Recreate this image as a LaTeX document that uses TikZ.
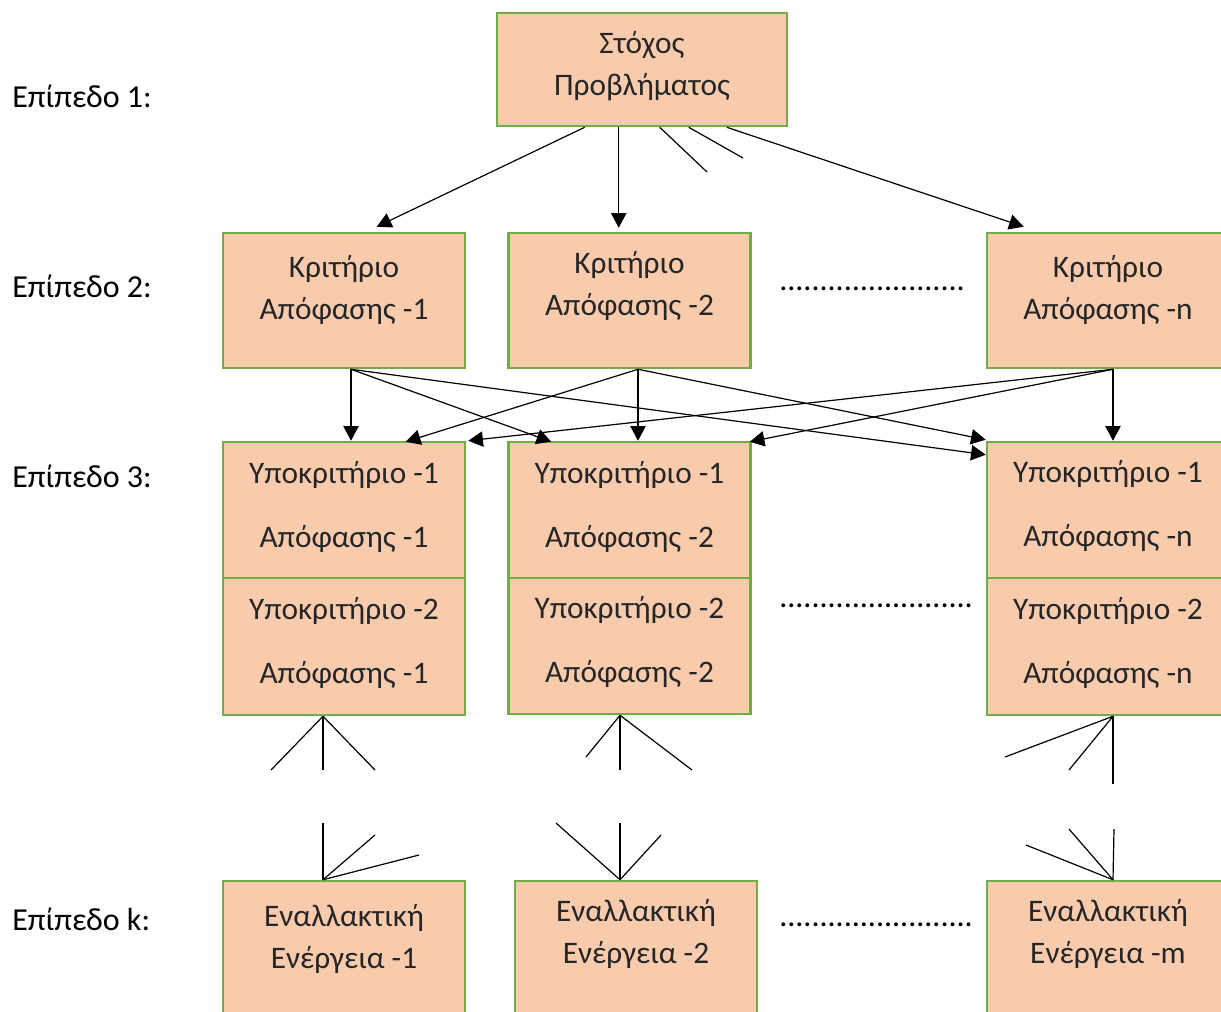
\documentclass[tikz,border=0pt]{standalone}
\usepackage{fontspec}
\setmainfont{Carlito}
\usetikzlibrary{arrows.meta,calc}
\definecolor{boxfill}{HTML}{F8CBAD}
\definecolor{boxline}{HTML}{70AD47}
\definecolor{ink}{HTML}{262626}
\begin{document}
\begin{tikzpicture}[x=0.75pt,y=-0.75pt,
  box/.style={draw=boxline, fill=boxfill, line width=1.9pt, inner sep=0, minimum width=181.5pt},
  txt/.style={font=\fontsize{23.5}{31.5}\selectfont, align=center, text=ink, inner sep=0},
  txtwide/.style={font=\fontsize{23.5}{48}\selectfont, align=center, text=ink, inner sep=0},
  lvl/.style={font=\fontsize{24}{28}\selectfont, text=black, anchor=west, inner sep=0},
  dots/.style={font=\fontsize{24}{28}\selectfont, text=black, anchor=west, inner sep=0},
  conn/.style={draw=black, line width=0.9pt},
  arr/.style={conn, -{Triangle[length=11pt,width=11.5pt]}}]
\useasboundingbox (0,0) rectangle (1221,1011);

% level labels
\node[lvl] (l1) at (12,96) {Επίπεδο 1:};
\node[lvl] (l2) at (12,286) {Επίπεδο 2:};
\node[lvl] (l3) at (12,476) {Επίπεδο 3:};
\node[lvl] (lk) at (12,919) {Επίπεδο k:};

% level 1: goal
\node[box, minimum width=217.5pt, minimum height=84.75pt] (goal) at (642,69.5) {};
\node[txt] (goal-t) at (642,66) {Στόχος\\Προβλήματος};

% level 2: criteria
\node[box, minimum height=101.25pt] (c1) at (344,300.5) {};
\node[box, minimum height=101.25pt] (c2) at (629.5,300.5) {};
\node[box, minimum height=101.25pt] (cn) at (1108,300.5) {};
\node[txt] (c1-t) at (344,290) {Κριτήριο\\Απόφασης -1};
\node[txt] (c2-t) at (629.5,286) {Κριτήριο\\Απόφασης -2};
\node[txt] (cn-t) at (1108,290) {Κριτήριο\\Απόφασης -n};
\node[dots] (d2) at (779,289) {.......................};

% level 3: sub-criteria
\node[box, minimum height=102pt] (s11) at (344,510) {};
\node[box, minimum height=102.75pt] (s12) at (344,646.5) {};
\node[box, minimum height=102pt] (s21) at (629.5,510) {};
\node[box, minimum height=102pt] (s22) at (629.5,646) {};
\node[box, minimum height=102pt] (sn1) at (1108,510) {};
\node[box, minimum height=102.75pt] (sn2) at (1108,646.5) {};
\node[txtwide] (s11-t) at (344,507) {Υποκριτήριο -1\\Απόφασης -1};
\node[txtwide] (s12-t) at (344,643) {Υποκριτήριο -2\\Απόφασης -1};
\node[txtwide] (s21-t) at (629.5,507) {Υποκριτήριο -1\\Απόφασης -2};
\node[txtwide] (s22-t) at (629.5,642) {Υποκριτήριο -2\\Απόφασης -2};
\node[txtwide] (sn1-t) at (1108,506) {Υποκριτήριο -1\\Απόφασης -n};
\node[txtwide] (sn2-t) at (1108,643) {Υποκριτήριο -2\\Απόφασης -n};
\node[dots] (d3) at (779,606) {........................};

% level k: alternatives
\node[box, minimum height=105pt] (a1) at (344,951) {};
\node[box, minimum height=105pt] (a2) at (636,951) {};
\node[box, minimum height=105pt] (am) at (1108,951) {};
\node[txt] (a1-t) at (344,939) {Εναλλακτική\\Ενέργεια -1};
\node[txt] (a2-t) at (636,934) {Εναλλακτική\\Ενέργεια -2};
\node[txt] (am-t) at (1108,934) {Εναλλακτική\\Ενέργεια -m};
\node[dots] (dk) at (779,925) {........................};

% goal -> criteria
\draw[arr] ($(goal.south west)+(89,0)$) -- ($(c1.north west)+(155,-5)$);
\draw[arr] ($(goal.south west)+(123,0)$) -- ($(c2.north west)+(111.5,-4)$);
\draw[arr] ($(goal.south west)+(231,0)$) -- ($(cn.north west)+(38,-5)$);
% open branches below the goal
\coordinate (gs1) at (707,172);
\coordinate (gs2) at (743,158);
\draw[conn] ($(goal.south west)+(164,0)$) -- (gs1);
\draw[conn] ($(goal.south west)+(193,0)$) -- (gs2);

% criteria -> sub-criteria
\draw[arr] ($(c1.south)+(7,0)$) -- ($(s11.north)+(7,0)$);
\draw[arr] ($(c1.south)+(7,0)$) -- ($(s21.north west)+(44,1)$);
\draw[arr] ($(c1.south)+(7,0)$) -- ($(sn1.north west)+(0,14)$);
\draw[arr] ($(c2.south)+(8.5,0)$) -- ($(s21.north)+(8.5,0)$);
\draw[arr] ($(c2.south)+(8.5,0)$) -- ($(s11.north west)+(184,1)$);
\draw[arr] ($(c2.south)+(8.5,0)$) -- ($(sn1.north west)+(0,-1)$);
\draw[arr] ($(cn.south)+(5,0)$) -- ($(sn1.north)+(5,0)$);
\draw[arr] ($(cn.south)+(5,0)$) -- ($(s11.north east)+(2,0)$);
\draw[arr] ($(cn.south)+(5,0)$) -- ($(s21.north east)+(-2,1)$);

% open branches below the sub-criteria
\coordinate (b11) at (271,770);
\coordinate (b12) at (323,770);
\coordinate (b13) at (375,770);
\coordinate (b21) at (586,757);
\coordinate (b22) at (620,770);
\coordinate (b23) at (692,770);
\coordinate (bn1) at (1005,757);
\coordinate (bn2) at (1069,770);
\coordinate (bn3) at (1113,784);
\foreach \e in {b11,b12,b13} \draw[conn] ($(s12.south)+(-21,0)$) -- (\e);
\foreach \e in {b21,b22,b23} \draw[conn] ($(s22.south)+(-9.5,0)$) -- (\e);
\foreach \e in {bn1,bn2,bn3} \draw[conn] ($(sn2.south)+(5,0)$) -- (\e);

% open branches above the alternatives
\coordinate (t11) at (323,823);
\coordinate (t12) at (375,835);
\coordinate (t13) at (419,855);
\coordinate (t21) at (556,823);
\coordinate (t22) at (620,823);
\coordinate (t23) at (661,835);
\coordinate (tn1) at (1026,845);
\coordinate (tn2) at (1069,829);
\coordinate (tn3) at (1114,829);
\foreach \e in {t11,t12,t13} \draw[conn] ($(a1.north)+(-21,0)$) -- (\e);
\foreach \e in {t21,t22,t23} \draw[conn] ($(a2.north)+(-16,0)$) -- (\e);
\foreach \e in {tn1,tn2,tn3} \draw[conn] ($(am.north)+(5,0)$) -- (\e);
\end{tikzpicture}
\end{document}
